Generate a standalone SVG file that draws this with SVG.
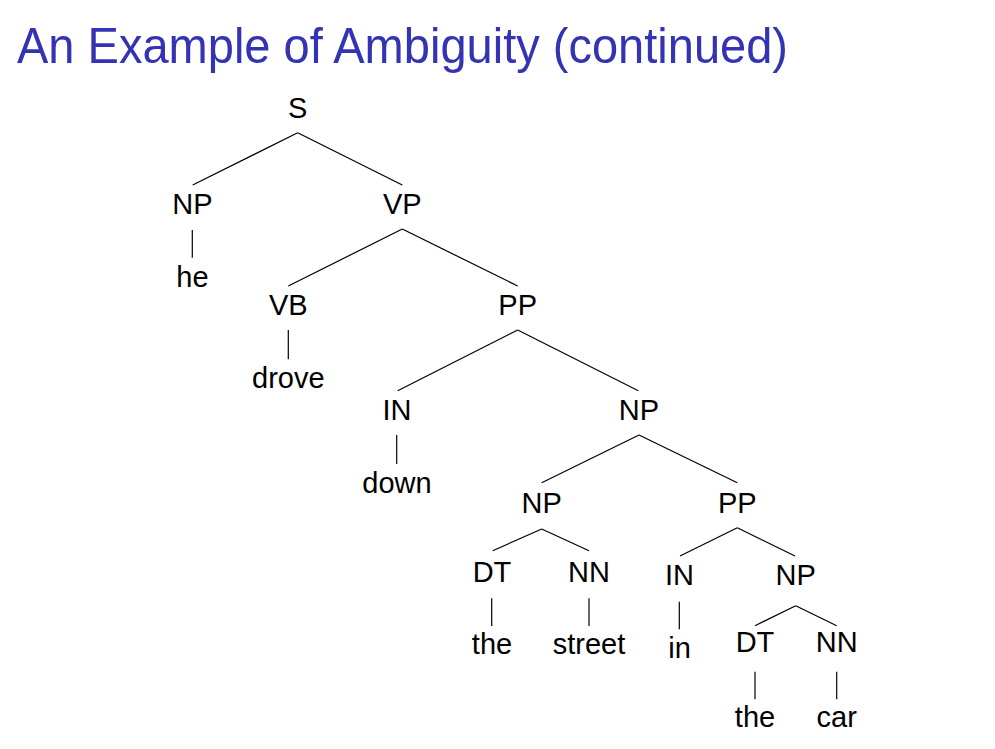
<svg xmlns="http://www.w3.org/2000/svg" width="995" height="749" viewBox="0 0 995 749">
<style>
.t{font-family:"Liberation Sans","DejaVu Sans",sans-serif;font-size:29px;fill:#000;text-anchor:middle}
.title{font-family:"Liberation Sans","DejaVu Sans",sans-serif;font-size:50px;fill:#3333b3}
.e line{stroke:#000;stroke-width:1.2}
</style>
<rect width="995" height="749" fill="#fff"/>
<text class="title" x="17" y="63" textLength="771" lengthAdjust="spacingAndGlyphs">An Example of Ambiguity (continued)</text>
<g id="connectors" class="e">
<line x1="297.7" y1="132.7" x2="192.7" y2="185"/>
<line x1="297.7" y1="132.7" x2="402.3" y2="185"/>
<line x1="192.3" y1="230" x2="192.3" y2="257.7"/>
<line x1="402.3" y1="229" x2="288.3" y2="286"/>
<line x1="402.3" y1="229" x2="517.7" y2="286"/>
<line x1="288.3" y1="330" x2="288.3" y2="359.3"/>
<line x1="517.7" y1="330" x2="397.7" y2="390.7"/>
<line x1="517.7" y1="330" x2="638.3" y2="390.7"/>
<line x1="396.7" y1="435" x2="396.7" y2="464"/>
<line x1="639" y1="435" x2="541.7" y2="482.7"/>
<line x1="639" y1="435" x2="737.3" y2="482.7"/>
<line x1="541.7" y1="529" x2="492.7" y2="550.7"/>
<line x1="541.7" y1="529" x2="589" y2="550.7"/>
<line x1="491.7" y1="598.3" x2="491.7" y2="626"/>
<line x1="589" y1="598.3" x2="589" y2="626"/>
<line x1="737.3" y1="527.7" x2="680" y2="556"/>
<line x1="737.3" y1="527.7" x2="795" y2="556"/>
<line x1="679.3" y1="601.7" x2="679.3" y2="629.3"/>
<line x1="795.7" y1="605.7" x2="755" y2="625.7"/>
<line x1="795.7" y1="605.7" x2="836.7" y2="625.7"/>
<line x1="755" y1="671.7" x2="755" y2="699.3"/>
<line x1="836.7" y1="671.7" x2="836.7" y2="699.3"/>
</g>
<g id="n-S"><text class="t" x="297.7" y="118">S</text></g>
<g id="n-NP1"><text class="t" x="192.5" y="214">NP</text></g>
<g id="n-he"><text class="t" x="192.5" y="287">he</text></g>
<g id="n-VP"><text class="t" x="402.3" y="214">VP</text></g>
<g id="n-VB"><text class="t" x="288.3" y="315">VB</text></g>
<g id="n-drove"><text class="t" x="288.3" y="388">drove</text></g>
<g id="n-PP1"><text class="t" x="517.7" y="315">PP</text></g>
<g id="n-IN1"><text class="t" x="397" y="420">IN</text></g>
<g id="n-down"><text class="t" x="397" y="493">down</text></g>
<g id="n-NP2"><text class="t" x="639" y="420">NP</text></g>
<g id="n-NP3"><text class="t" x="541.7" y="513">NP</text></g>
<g id="n-DT1"><text class="t" x="492" y="582">DT</text></g>
<g id="n-the1"><text class="t" x="492" y="654">the</text></g>
<g id="n-NN1"><text class="t" x="589" y="582">NN</text></g>
<g id="n-street"><text class="t" x="589" y="654">street</text></g>
<g id="n-PP2"><text class="t" x="737.3" y="513">PP</text></g>
<g id="n-IN2"><text class="t" x="679.5" y="585">IN</text></g>
<g id="n-in"><text class="t" x="679.5" y="658">in</text></g>
<g id="n-NP4"><text class="t" x="795.7" y="585">NP</text></g>
<g id="n-DT2"><text class="t" x="755" y="652">DT</text></g>
<g id="n-the2"><text class="t" x="755" y="727">the</text></g>
<g id="n-NN2"><text class="t" x="836.7" y="652">NN</text></g>
<g id="n-car"><text class="t" x="836.7" y="727">car</text></g>
</svg>
